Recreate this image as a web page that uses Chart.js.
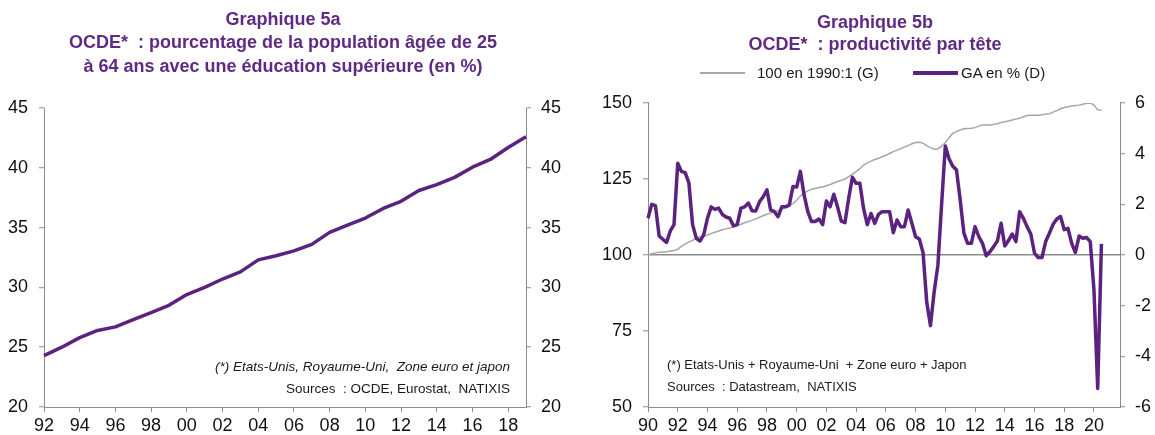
<!DOCTYPE html>
<html>
<head>
<meta charset="utf-8">
<script src="https://cdn.jsdelivr.net/npm/chart.js@4.4.1/dist/chart.umd.min.js"></script>
<style>
  html, body { margin: 0; padding: 0; background: #fff; }
  body { width: 1155px; height: 435px; position: relative; overflow: hidden; font-family: "Liberation Sans", Arial, sans-serif; color: #1a1a1a; }
  .panel { position: absolute; top: 0; height: 435px; }
  #p5a { left: 0; width: 566px; }
  #p5b { left: 595px; width: 560px; }
  .note { position: absolute; font-size: 13px; line-height: 14px; white-space: pre; }
  .leg-line { position: absolute; }
  .leg-text { position: absolute; font-size: 15px; line-height: 16px; white-space: pre; }
</style>
</head>
<body>
<div class="panel" id="p5a"><canvas id="chart5a"></canvas></div>
<div class="panel" id="p5b"><canvas id="chart5b"></canvas></div>

<div class="leg-line" style="left:700px;top:72px;width:45px;height:2px;background:#a6a6a6"></div>
<div class="leg-text" style="left:757px;top:65px">100 en 1990:1 (G)</div>
<div class="leg-line" style="left:913px;top:71px;width:45px;height:4px;background:#5b237f"></div>
<div class="leg-text" style="left:961px;top:65px">GA en % (D)</div>

<div class="note" style="right:645px;top:360px;font-style:italic;font-size:13.5px">(*) Etats-Unis, Royaume-Uni,  Zone euro et japon</div>
<div class="note" style="right:645px;top:382px;font-size:13.5px">Sources  : OCDE, Eurostat,  NATIXIS</div>
<div class="note" style="left:667px;top:358px">(*) Etats-Unis + Royaume-Uni  + Zone euro + Japon</div>
<div class="note" style="left:667px;top:380px">Sources  : Datastream,  NATIXIS</div>

<script>
"use strict";

// Graphique 5a : annual, 1992-2019
const eduYears = [1992, 1993, 1994, 1995, 1996, 1997, 1998, 1999, 2000, 2001, 2002, 2003, 2004, 2005,
  2006, 2007, 2008, 2009, 2010, 2011, 2012, 2013, 2014, 2015, 2016, 2017, 2018, 2019];
const eduShare = [24.3, 25.0, 25.8, 26.4, 26.7, 27.3, 27.9, 28.5, 29.4, 30.0, 30.7, 31.3, 32.3, 32.65,
  33.05, 33.6, 34.6, 35.2, 35.8, 36.6, 37.2, 38.1, 38.6, 39.2, 40.05, 40.7, 41.7, 42.6];
const eduTicks = [20, 25, 30, 35, 40, 45];

// Graphique 5b : quarterly, 1990Q1-2020Q3 (axis runs to 2021Q4)
const prodFirstYear = 1990;
const prodLastYear = 2021;
const prodIndex = [
  100.0, 100.4, 100.7, 100.9,  101.0, 101.1, 101.3, 101.5,  101.9, 102.8, 103.6, 104.3,
  104.8, 105.5, 106.0, 106.2,  106.6, 107.1, 107.5, 107.9,  108.3, 108.6, 108.9, 109.3,
  109.7, 110.1, 110.6, 111.0,  111.4, 111.9, 112.4, 112.9,  113.4, 113.8, 114.2, 114.6,
  115.1, 115.6, 116.2, 117.0,  118.0, 119.4, 120.4, 121.1,  121.6, 121.9, 122.2, 122.4,
  122.8, 123.2, 123.7, 124.2,  124.6, 125.0, 125.8, 126.6,  127.4, 128.4, 129.6, 130.3,
  130.9, 131.4, 131.8, 132.3,  132.8, 133.4, 134.0, 134.5,  135.0, 135.5, 136.0, 136.6,
  137.0, 137.1, 136.8, 136.0,  135.3, 134.8, 134.9, 135.8,  137.0, 138.6, 140.0, 140.6,
  141.1, 141.5, 141.6, 141.7,  141.9, 142.4, 142.8, 142.8,  142.8, 142.9, 143.2, 143.6,
  143.8, 144.1, 144.4, 144.7,  145.0, 145.5, 145.9, 146.0,  146.0, 146.0, 146.1, 146.4,
  146.5, 147.0, 147.5, 148.1,  148.5, 148.8, 149.0, 149.2,  149.3, 149.6, 149.9, 150.0,
  149.3, 147.8, 147.7
];
const prodGrowth = [
  1.45, 2.0, 1.95, 0.75,   0.62, 0.5, 0.95, 1.2,   3.62, 3.3, 3.25, 2.85,
  1.2, 0.66, 0.55, 0.8,    1.45, 1.9, 1.8, 1.85,   1.6, 1.5, 1.45, 1.15,
  1.2, 1.85, 1.9, 2.05,    1.75, 1.74, 2.1, 2.3,   2.57, 1.78, 1.71, 1.51,
  1.9, 1.9, 1.97, 2.7,     2.68, 3.3, 2.37, 1.71,  1.32, 1.32, 1.42, 1.2,
  2.13, 1.9, 2.4, 1.9,     1.34, 1.28, 2.24, 3.07, 2.83, 2.83, 1.84, 1.2,
  1.64, 1.25, 1.6, 1.71,   1.71, 1.71, 0.88, 1.38, 1.12, 1.12, 1.78, 1.25,
  0.72, 0.63, 0.1, -1.86,  -2.79, -1.45, -0.4, 2.0, 4.3, 3.8, 3.5, 3.36,
  2.18, 0.86, 0.46, 0.46,  1.12, 0.73, 0.46, -0.03, 0.13, 0.33, 0.55, 1.25,
  0.36, 0.57, 0.83, 0.53,  1.71, 1.45, 1.12, 0.83, 0.07, -0.1, -0.1, 0.53,
  0.86, 1.21, 1.42, 1.52,  1.0, 1.05, 0.46, 0.1,   0.75, 0.66, 0.69, 0.53,
  -1.4, -5.27, 0.44
];
const prodLeftTicks = [50, 75, 100, 125, 150];
const prodRightTicks = [-6, -4, -2, 0, 2, 4, 6];

const PURPLE = "#5b237f";
const TITLE_PURPLE = "#5e2a84";
const GREY_LINE = "#a6a6a6";
const AXIS = "#8c8c8c";
const FONT = "'Liberation Sans', Arial, sans-serif";

const quarters = [];
for (let y = prodFirstYear; y <= prodLastYear; y++) {
  for (let q = 1; q <= 4; q++) quarters.push(y + "Q" + q);
}

function shortYear(y) {
  return String(y % 100).padStart(2, "0");
}

function yAxis(position, ticks, width, padding, zeroLine) {
  return {
    type: "linear",
    position,
    min: ticks[0],
    max: ticks[ticks.length - 1],
    afterBuildTicks: (scale) => { scale.ticks = ticks.map((v) => ({ value: v })); },
    afterFit: (scale) => { scale.width = width; },
    border: { display: true, color: AXIS, width: 1 },
    grid: {
      drawOnChartArea: zeroLine != null,
      color: (ctx) => (zeroLine != null && ctx.tick && ctx.tick.value === zeroLine ? AXIS : "rgba(0,0,0,0)"),
      lineWidth: 1.5,
      tickColor: AXIS,
      tickLength: 5,
      tickWidth: 1
    },
    ticks: { color: "#111", font: { family: FONT, size: 18 }, padding }
  };
}

function xAxis(labelFor) {
  return {
    type: "category",
    offset: false,
    afterFit: (scale) => { scale.height = 28; },
    border: { display: true, color: AXIS, width: 1 },
    grid: { drawOnChartArea: false, tickColor: AXIS, tickLength: 5 },
    ticks: {
      autoSkip: false,
      maxRotation: 0,
      color: "#111",
      font: { family: FONT, size: 18 },
      padding: 3,
      callback: function (value) { return labelFor(this.getLabelForValue(value)); }
    }
  };
}

function titleOptions(lines, lineHeight, top, bottom) {
  return {
    display: true,
    text: lines,
    color: TITLE_PURPLE,
    font: { family: FONT, size: 18, weight: "bold", lineHeight },
    padding: { top, bottom }
  };
}

new Chart(document.getElementById("chart5a"), {
  type: "line",
  data: {
    labels: eduYears,
    datasets: [{
      data: eduShare,
      borderColor: PURPLE,
      borderWidth: 3.5,
      pointRadius: 0,
      tension: 0,
      borderJoinStyle: "round",
      yAxisID: "y"
    }]
  },
  options: {
    responsive: true,
    maintainAspectRatio: false,
    animation: false,
    layout: { padding: 0 },
    plugins: {
      legend: { display: false },
      tooltip: { enabled: false },
      title: titleOptions([
        "Graphique 5a",
        "OCDE*  : pourcentage de la population âgée de 25",
        "à 64 ans avec une éducation supérieure (en %)"
      ], 1.3056, 8.25, 29.25)
    },
    scales: {
      x: xAxis((label) => (Number(label) % 2 === 0 ? shortYear(Number(label)) : null)),
      y: yAxis("left", eduTicks, 44, 11, null),
      y2: yAxis("right", eduTicks, 40, 10, null)
    }
  }
});

new Chart(document.getElementById("chart5b"), {
  type: "line",
  data: {
    labels: quarters,
    datasets: [
      {
        label: "GA en % (D)",
        data: prodGrowth,
        borderColor: PURPLE,
        borderWidth: 3.5,
        pointRadius: 0,
        tension: 0,
        borderJoinStyle: "round",
        yAxisID: "y2"
      },
      {
        label: "100 en 1990:1 (G)",
        data: prodIndex,
        borderColor: GREY_LINE,
        borderWidth: 1.5,
        pointRadius: 0,
        tension: 0,
        yAxisID: "y"
      }
    ]
  },
  options: {
    responsive: true,
    maintainAspectRatio: false,
    animation: false,
    layout: { padding: 0 },
    plugins: {
      legend: { display: false },
      tooltip: { enabled: false },
      title: titleOptions([
        "Graphique 5b",
        "OCDE*  : productivité par tête"
      ], 1.2222, 12, 47)
    },
    scales: {
      x: xAxis((label) => {
        const year = Number(label.slice(0, 4));
        return label.endsWith("Q1") && year % 2 === 0 && year <= 2020 ? shortYear(year) : null;
      }),
      y: yAxis("left", prodLeftTicks, 53, 11, 100),
      y2: yAxis("right", prodRightTicks, 35, 10, null)
    }
  }
});
</script>
</body>
</html>
